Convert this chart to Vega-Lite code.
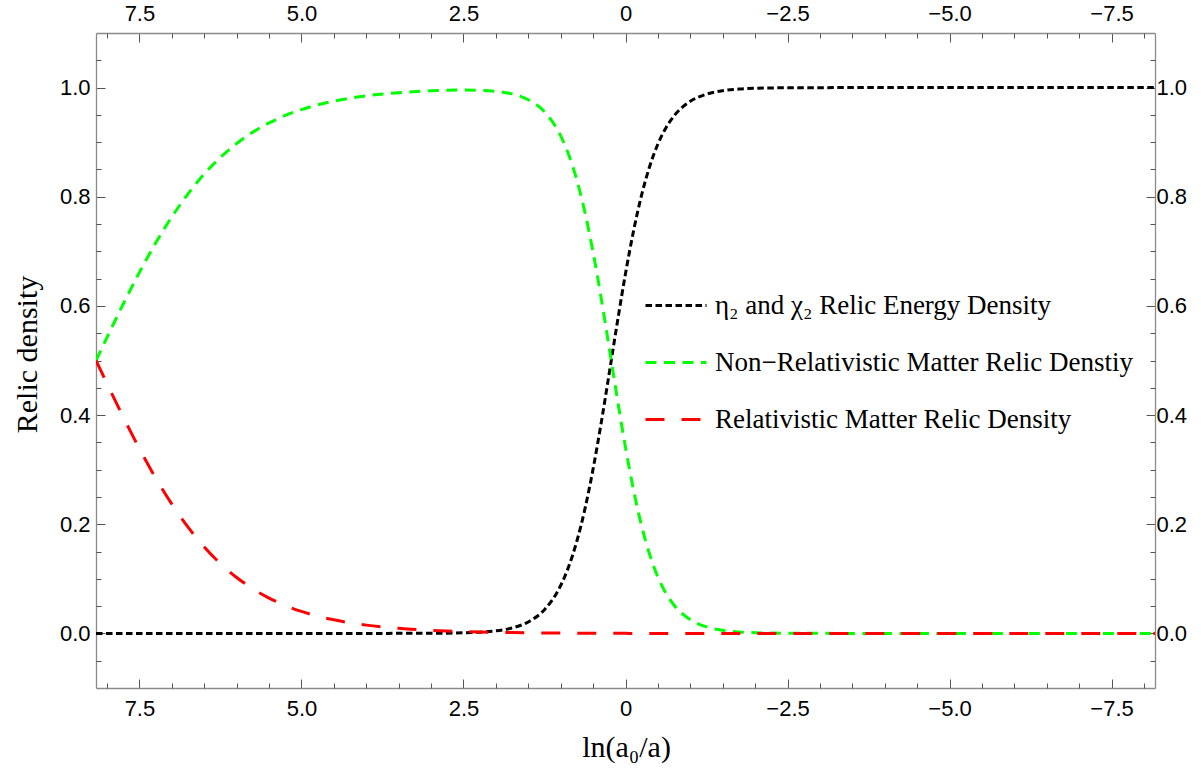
{
  "$schema": "https://vega.github.io/schema/vega-lite/v6.json",
  "width": 1059,
  "height": 655,
  "autosize": {"type": "none"},
  "padding": {"left": 96, "top": 33, "right": 46, "bottom": 84},
  "background": "white",
  "data": {
    "values": [
      {"x": 8.17, "eta": 0, "nonrel": 0.5, "rel": 0.5},
      {"x": 8.0, "eta": 0, "nonrel": 0.5424, "rel": 0.4576},
      {"x": 7.75, "eta": 0, "nonrel": 0.6035, "rel": 0.3965},
      {"x": 7.5, "eta": 0, "nonrel": 0.6615, "rel": 0.3385},
      {"x": 7.25, "eta": 0, "nonrel": 0.7151, "rel": 0.2849},
      {"x": 7.0, "eta": 0, "nonrel": 0.7631, "rel": 0.2369},
      {"x": 6.75, "eta": 0, "nonrel": 0.8053, "rel": 0.1947},
      {"x": 6.5, "eta": 0, "nonrel": 0.8416, "rel": 0.1584},
      {"x": 6.25, "eta": 0, "nonrel": 0.8721, "rel": 0.1279},
      {"x": 6.0, "eta": 0, "nonrel": 0.8975, "rel": 0.1025},
      {"x": 5.75, "eta": 0, "nonrel": 0.9184, "rel": 0.0816},
      {"x": 5.5, "eta": 0, "nonrel": 0.9352, "rel": 0.0648},
      {"x": 5.25, "eta": 0, "nonrel": 0.9489, "rel": 0.0511},
      {"x": 5.0, "eta": 0, "nonrel": 0.9597, "rel": 0.0403},
      {"x": 4.75, "eta": 0, "nonrel": 0.9683, "rel": 0.0317},
      {"x": 4.5, "eta": 0, "nonrel": 0.9751, "rel": 0.0249},
      {"x": 4.0, "eta": 0, "nonrel": 0.9848, "rel": 0.0152},
      {"x": 3.5, "eta": 0.0001, "nonrel": 0.9907, "rel": 0.0093},
      {"x": 3.0, "eta": 0.0002, "nonrel": 0.9941, "rel": 0.0056},
      {"x": 2.5, "eta": 0.0011, "nonrel": 0.9955, "rel": 0.0034},
      {"x": 2.0, "eta": 0.0048, "nonrel": 0.9932, "rel": 0.0021},
      {"x": 1.75, "eta": 0.0100, "nonrel": 0.9884, "rel": 0.0016},
      {"x": 1.5, "eta": 0.0210, "nonrel": 0.9777, "rel": 0.0012},
      {"x": 1.25, "eta": 0.0435, "nonrel": 0.9556, "rel": 0.0009},
      {"x": 1.0, "eta": 0.0878, "nonrel": 0.9115, "rel": 0.0007},
      {"x": 0.875, "eta": 0.1229, "nonrel": 0.8765, "rel": 0.0006},
      {"x": 0.75, "eta": 0.1693, "nonrel": 0.8302, "rel": 0.0005},
      {"x": 0.625, "eta": 0.2287, "nonrel": 0.7709, "rel": 0.0004},
      {"x": 0.5, "eta": 0.3014, "nonrel": 0.6982, "rel": 0.0003},
      {"x": 0.375, "eta": 0.3857, "nonrel": 0.6141, "rel": 0.0003},
      {"x": 0.25, "eta": 0.4774, "nonrel": 0.5224, "rel": 0.0002},
      {"x": 0.125, "eta": 0.5707, "nonrel": 0.4292, "rel": 0.0001},
      {"x": 0.0, "eta": 0.6592, "nonrel": 0.3407, "rel": 0.0001},
      {"x": -0.125, "eta": 0.7379, "nonrel": 0.2621, "rel": 0},
      {"x": -0.25, "eta": 0.8038, "nonrel": 0.1962, "rel": 0},
      {"x": -0.375, "eta": 0.8563, "nonrel": 0.1437, "rel": 0},
      {"x": -0.5, "eta": 0.8966, "nonrel": 0.1034, "rel": 0},
      {"x": -0.625, "eta": 0.9266, "nonrel": 0.0734, "rel": 0},
      {"x": -0.75, "eta": 0.9483, "nonrel": 0.0517, "rel": 0},
      {"x": -0.875, "eta": 0.9639, "nonrel": 0.0361, "rel": 0},
      {"x": -1.0, "eta": 0.9749, "nonrel": 0.0251, "rel": 0},
      {"x": -1.25, "eta": 0.9880, "nonrel": 0.0120, "rel": 0},
      {"x": -1.5, "eta": 0.9943, "nonrel": 0.0057, "rel": 0},
      {"x": -1.75, "eta": 0.9973, "nonrel": 0.0027, "rel": 0},
      {"x": -2.0, "eta": 0.9987, "nonrel": 0.0013, "rel": 0},
      {"x": -2.5, "eta": 0.9997, "nonrel": 0.0003, "rel": 0},
      {"x": -3.0, "eta": 0.9999, "nonrel": 0.0001, "rel": 0},
      {"x": -4.0, "eta": 1, "nonrel": 0, "rel": 0},
      {"x": -5.0, "eta": 1, "nonrel": 0, "rel": 0},
      {"x": -6.0, "eta": 1, "nonrel": 0, "rel": 0},
      {"x": -7.0, "eta": 1, "nonrel": 0, "rel": 0},
      {"x": -8.17, "eta": 1, "nonrel": 0, "rel": 0}
    ]
  },
  "transform": [
    {"fold": ["eta", "nonrel", "rel"], "as": ["series", "value"]}
  ],
  "layer": [
    {
      "mark": {"type": "line", "strokeWidth": 3, "interpolate": "monotone", "clip": true},
      "encoding": {
        "x": {
          "field": "x", "type": "quantitative",
          "scale": {"domain": [-8.17, 8.17], "reverse": true, "nice": false, "zero": false},
          "axis": {
            "orient": "bottom",
            "values": [-7.5, -5, -2.5, 0, 2.5, 5, 7.5],
            "labelExpr": "datum.value == 0 ? '0' : format(datum.value, '.1f')",
            "tickSize": -9, "labelPadding": 19,
            "title": "ln(a₀/a)", "titleX": 530, "titleY": 68,
            "titleAlign": "center", "titleBaseline": "alphabetic", "titleFontSize": 30
          }
        },
        "y": {
          "field": "value", "type": "quantitative",
          "scale": {"domain": [-0.1, 1.1], "nice": false, "zero": false},
          "axis": {
            "orient": "left",
            "values": [0, 0.2, 0.4, 0.6, 0.8, 1.0],
            "format": ".1f",
            "tickSize": -9, "labelPadding": 15,
            "title": "Relic density", "titleX": -60, "titleY": 321,
            "titleAngle": 270, "titleAlign": "center", "titleBaseline": "alphabetic", "titleFontSize": 30
          }
        },
        "color": {
          "field": "series", "type": "nominal",
          "scale": {"domain": ["eta", "nonrel", "rel"], "range": ["#000000", "#00ff00", "#ff0000"]},
          "legend": {
            "orient": "none", "legendX": 548, "legendY": 244,
            "title": null, "padding": 0,
            "symbolType": "stroke", "symbolSize": 3721, "symbolStrokeWidth": 3,
            "labelFont": "Liberation Serif", "labelFontSize": 27, "labelColor": "#000000",
            "labelOffset": 7, "clipHeight": 57, "rowPadding": 0, "labelLimit": 600,
            "labelExpr": "datum.label == 'eta' ? 'η₂ and χ₂ Relic Energy Density' : datum.label == 'nonrel' ? 'Non−Relativistic Matter Relic Denstiy' : 'Relativistic Matter Relic Density'"
          }
        },
        "strokeDash": {
          "field": "series", "type": "nominal",
          "scale": {"domain": ["eta", "nonrel", "rel"], "range": [[6.5, 3.5], [11, 7.5], [19, 17]]},
          "legend": {
            "orient": "none", "legendX": 548, "legendY": 244,
            "title": null, "padding": 0,
            "symbolType": "stroke", "symbolSize": 3721, "symbolStrokeWidth": 3,
            "labelFont": "Liberation Serif", "labelFontSize": 27, "labelColor": "#000000",
            "labelOffset": 7, "clipHeight": 57, "rowPadding": 0, "labelLimit": 600,
            "labelExpr": "datum.label == 'eta' ? 'η₂ and χ₂ Relic Energy Density' : datum.label == 'nonrel' ? 'Non−Relativistic Matter Relic Denstiy' : 'Relativistic Matter Relic Density'"
          }
        }
      }
    },
    {
      "mark": {"type": "point", "opacity": 0},
      "encoding": {
        "x": {
          "field": "x", "type": "quantitative",
          "axis": {
            "orient": "top",
            "values": [-7.5, -5, -2.5, 0, 2.5, 5, 7.5],
            "labelExpr": "datum.value == 0 ? '0' : format(datum.value, '.1f')",
            "tickSize": -9, "labelPadding": 17, "title": null
          }
        },
        "y": {
          "field": "value", "type": "quantitative",
          "axis": {
            "orient": "right",
            "values": [0, 0.2, 0.4, 0.6, 0.8, 1.0],
            "format": ".1f",
            "tickSize": -9, "labelPadding": 10, "title": null
          }
        }
      }
    },
    {
      "mark": {"type": "point", "opacity": 0},
      "encoding": {
        "x": {
          "field": "x", "type": "quantitative",
          "axis": {
            "orient": "bottom",
            "values": [-8, -7, -6.5, -6, -5.5, -4.5, -4, -3.5, -3, -2, -1.5, -1, -0.5, 0.5, 1, 1.5, 2, 3, 3.5, 4, 4.5, 5.5, 6, 6.5, 7, 8],
            "labels": false, "domain": false, "tickSize": -5, "title": null
          }
        },
        "y": {
          "field": "value", "type": "quantitative",
          "axis": {
            "orient": "left",
            "values": [-0.05, 0.05, 0.1, 0.15, 0.25, 0.3, 0.35, 0.45, 0.5, 0.55, 0.65, 0.7, 0.75, 0.85, 0.9, 0.95, 1.05],
            "labels": false, "domain": false, "tickSize": -5, "title": null
          }
        }
      }
    },
    {
      "mark": {"type": "point", "opacity": 0},
      "encoding": {
        "x": {
          "field": "x", "type": "quantitative",
          "axis": {
            "orient": "top",
            "values": [-8, -7, -6.5, -6, -5.5, -4.5, -4, -3.5, -3, -2, -1.5, -1, -0.5, 0.5, 1, 1.5, 2, 3, 3.5, 4, 4.5, 5.5, 6, 6.5, 7, 8],
            "labels": false, "domain": false, "tickSize": -5, "title": null
          }
        },
        "y": {
          "field": "value", "type": "quantitative",
          "axis": {
            "orient": "right",
            "values": [-0.05, 0.05, 0.1, 0.15, 0.25, 0.3, 0.35, 0.45, 0.5, 0.55, 0.65, 0.7, 0.75, 0.85, 0.9, 0.95, 1.05],
            "labels": false, "domain": false, "tickSize": -5, "title": null
          }
        }
      }
    }
  ],
  "resolve": {"axis": {"x": "independent", "y": "independent"}},
  "config": {
    "view": {"stroke": null},
    "axis": {
      "grid": false,
      "labelFont": "Liberation Sans", "labelFontSize": 22, "labelColor": "#000000",
      "tickColor": "#555555", "tickWidth": 1,
      "domainColor": "#8a8a8a", "domainWidth": 1.3,
      "titleFont": "Liberation Serif", "titleFontSize": 28, "titleFontWeight": "normal", "titleColor": "#000000",
      "labelFlush": false, "labelOverlap": false
    }
  }
}
